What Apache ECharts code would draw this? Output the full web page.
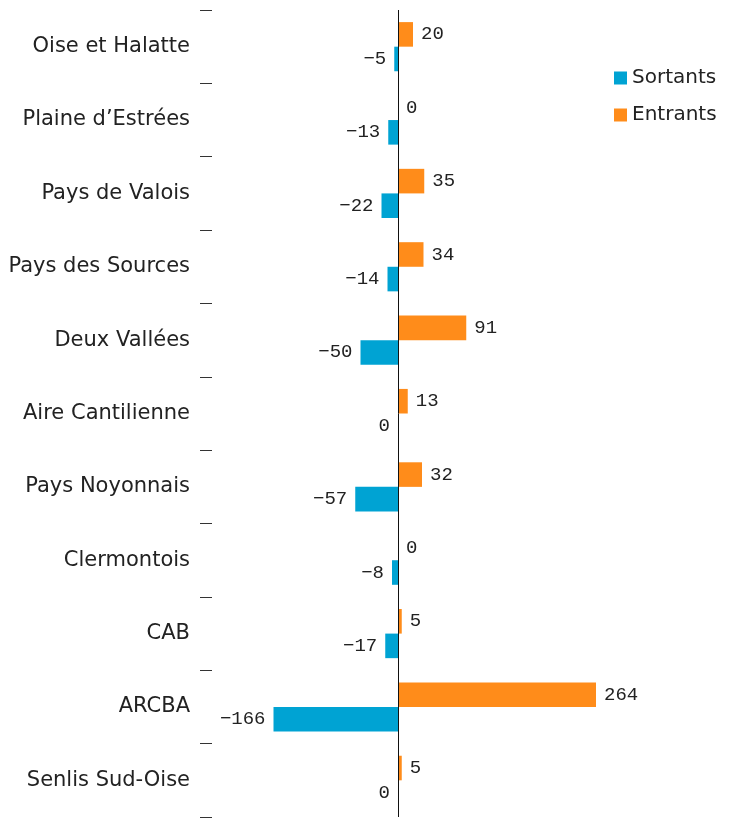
<!DOCTYPE html>
<html>
<head>
<meta charset="utf-8">
<script src="https://cdn.jsdelivr.net/npm/echarts@6/dist/echarts.min.js"></script>
<style>
  html, body { margin: 0; padding: 0; background: #fff; }
  #chart { width: 732px; height: 819px; }
</style>
</head>
<body>
<div id="chart"></div>
<script>
// Territories, top to bottom
const categories = [
  "Oise et Halatte",
  "Plaine d\u2019Estrées",
  "Pays de Valois",
  "Pays des Sources",
  "Deux Vallées",
  "Aire Cantilienne",
  "Pays Noyonnais",
  "Clermontois",
  "CAB",
  "ARCBA",
  "Senlis Sud-Oise",
];
const entrants = [20, 0, 35, 34, 91, 13, 32, 0, 5, 264, 5];
const sortants = [-5, -13, -22, -14, -50, 0, -57, -8, -17, -166, 0];

const ORANGE = "#ff8c1a";
const BLUE = "#00a3d3";
const LABEL_FONT = "'DejaVu Sans', sans-serif";
const NUM_FONT = "'Liberation Mono', monospace";

const chart = echarts.init(document.getElementById("chart"));

// minus sign shown as a real minus
const fmt = (p) => String(p.value).replace("-", "\u2212");

chart.setOption({
  animation: false,
  grid: { left: 212, right: 109, top: 10, bottom: 2 },
  legend: {
    orient: "vertical",
    left: 609,
    top: 63,
    icon: "rect",
    itemWidth: 13,
    itemHeight: 13,
    itemGap: 17,
    data: ["Sortants", "Entrants"],
    textStyle: { fontFamily: LABEL_FONT, fontSize: 20, color: "#222" },
  },
  xAxis: {
    type: "value",
    min: -248,
    max: 300,
    show: false,
  },
  yAxis: {
    type: "category",
    data: categories,
    inverse: true,
    axisLine: { show: false, onZero: false },
    axisTick: { show: true, length: 12, lineStyle: { color: "#333" } },
    axisLabel: {
      margin: 22,
      fontFamily: LABEL_FONT,
      fontSize: 21,
      color: "#222",
    },
    splitLine: { show: false },
  },
  series: [
    {
      name: "Entrants",
      type: "bar",
      data: entrants,
      barGap: "0%",
      barCategoryGap: "33%",
      itemStyle: { color: ORANGE },
      label: {
        show: true,
        position: "right",
        distance: 8,
        fontFamily: NUM_FONT,
        fontSize: 19,
        color: "#222",
        formatter: fmt,
      },
      markLine: {
        silent: true,
        symbol: "none",
        label: { show: false },
        lineStyle: { color: "#111", type: "solid", width: 1 },
        data: [{ xAxis: 0 }],
      },
    },
    {
      name: "Sortants",
      type: "bar",
      data: sortants,
      barGap: "0%",
      barCategoryGap: "33%",
      itemStyle: { color: BLUE },
      label: {
        show: true,
        position: "left",
        distance: 8,
        fontFamily: NUM_FONT,
        fontSize: 19,
        color: "#222",
        formatter: fmt,
      },
    },
  ],
});
</script>
</body>
</html>
